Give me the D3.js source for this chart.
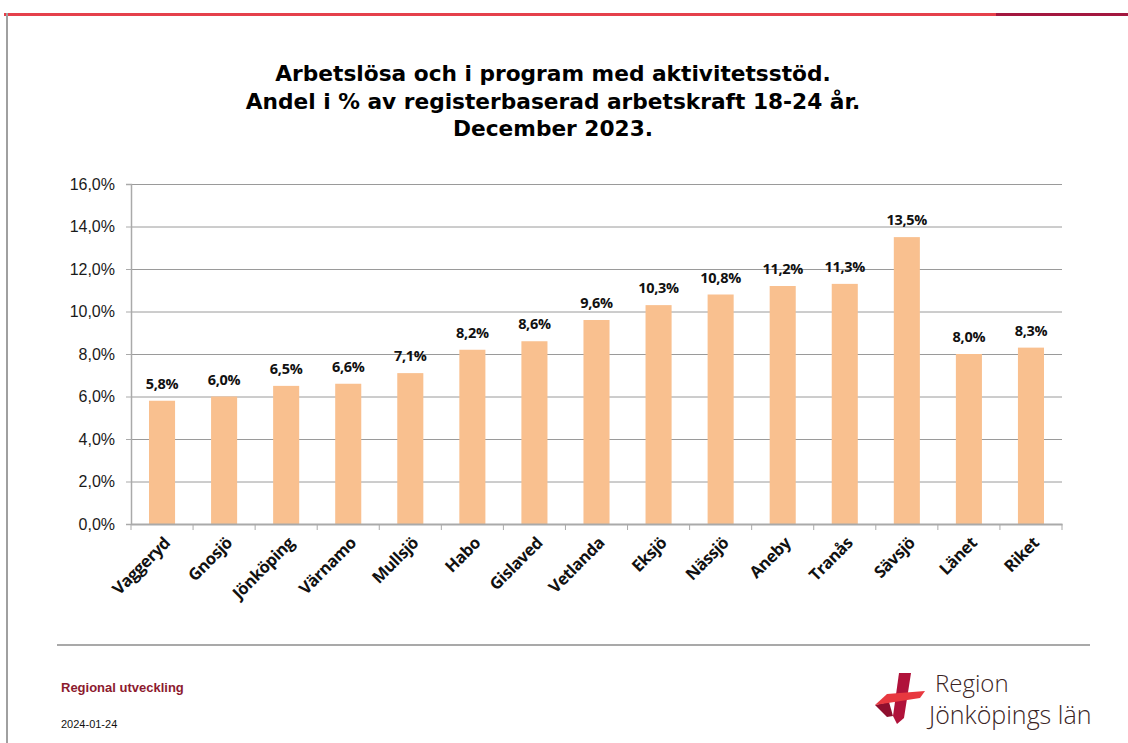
<!DOCTYPE html>
<html>
<head>
<meta charset="utf-8">
<script src="https://cdn.jsdelivr.net/npm/d3@7"></script>
<style>
  body { margin: 0; background: #fff; }
  svg { display: block; }
</style>
</head>
<body>
<div id="chart"></div>
<script>
var width = 1128, height = 743;

var kommuner = ["Vaggeryd", "Gnosjö", "Jönköping", "Värnamo", "Mullsjö", "Habo", "Gislaved",
    "Vetlanda", "Eksjö", "Nässjö", "Aneby", "Tranås", "Sävsjö", "Länet", "Riket"];
var andel = [5.8, 6.0, 6.5, 6.6, 7.1, 8.2, 8.6, 9.6, 10.3, 10.8, 11.2, 11.3, 13.5, 8.0, 8.3];
var yTicks = [0, 2, 4, 6, 8, 10, 12, 14, 16];
var titleLines = ["Arbetslösa och i program med aktivitetsstöd.",
    "Andel i % av registerbaserad arbetskraft 18-24 år.",
    "December 2023."];

var sv = d3.formatLocale({decimal: ",", thousands: " ", grouping: [3], currency: ["", " kr"]});
var fmt = sv.format(".1f");

var svg = d3.select("#chart").append("svg")
    .attr("width", width).attr("height", height);

// slide frame
svg.append("rect").attr("x", 4).attr("y", 13).attr("width", width - 4).attr("height", 3).attr("fill", "#e5404b");
svg.append("rect").attr("x", 996).attr("y", 13).attr("width", width - 996).attr("height", 3).attr("fill", "#a3173f");
svg.append("rect").attr("x", 6).attr("y", 13).attr("width", 2).attr("height", height - 13).attr("fill", "#a0a0a0");

// title
svg.append("text")
    .attr("x", 553).attr("y", 81)
    .attr("text-anchor", "middle")
    .style("font-family", "'DejaVu Sans', Verdana, sans-serif")
    .style("font-weight", "bold").style("font-size", "21.7px").attr("fill", "#000")
    .selectAll("tspan").data(titleLines).enter().append("tspan")
    .attr("x", 553).attr("dy", function(d, i){ return i ? 27.5 : 0; })
    .text(function(d){ return d; });

var plotL = 131, plotR = 1062, plotT = 184, plotB = 524;

var x = d3.scaleBand().domain(kommuner).range([plotL, plotR]).paddingInner(0.58).paddingOuter(0.29);
var xb = d3.scaleBand().domain(kommuner).range([plotL, plotR]);
var y = d3.scaleLinear().domain([0, 16]).range([plotB, plotT]);

// gridlines
svg.append("g").selectAll("line").data(yTicks.slice(1)).enter().append("line")
    .attr("x1", plotL).attr("x2", plotR)
    .attr("y1", function(d){ return y(d) + 0.5; }).attr("y2", function(d){ return y(d) + 0.5; })
    .attr("stroke", "#9a9a9a").attr("stroke-width", 1);

// y axis
var yAxis = svg.append("g").attr("transform", "translate(" + plotL + ",0)")
    .call(d3.axisLeft(y).tickValues(yTicks).tickSize(5).tickPadding(11)
        .tickFormat(function(d){ return fmt(d) + "%"; }));
yAxis.select(".domain").attr("stroke", "#aaa").attr("stroke-width", 1.5);
yAxis.selectAll(".tick line").attr("stroke", "#aaa");
yAxis.selectAll("text")
    .style("font-family", "'Liberation Sans', Arial, sans-serif")
    .style("font-size", "16px").attr("fill", "#1a1a1a");

// bars
svg.append("g").selectAll("rect").data(andel).enter().append("rect")
    .attr("x", function(d, i){ return x(kommuner[i]); })
    .attr("width", x.bandwidth())
    .attr("y", function(d){ return y(d); })
    .attr("height", function(d){ return plotB - y(d); })
    .attr("fill", "#f9c08f");

// value labels
svg.append("g").selectAll("text").data(andel).enter().append("text")
    .attr("x", function(d, i){ return x(kommuner[i]) + x.bandwidth() / 2; })
    .attr("y", function(d){ return y(d) - 12; })
    .attr("text-anchor", "middle")
    .style("font-family", "'Open Sans', sans-serif")
    .style("font-weight", "bold").style("font-size", "14.5px").attr("fill", "#111")
    .style("letter-spacing", "-0.3px")
    .text(function(d){ return fmt(d) + "%"; });

// x axis
var xAxis = svg.append("g").attr("transform", "translate(0," + plotB + ")")
    .call(d3.axisBottom(xb).tickSize(0).tickFormat(""));
xAxis.select(".domain").attr("stroke", "#aaa").attr("stroke-width", 2);
svg.append("g").selectAll("line").data(kommuner.concat([null])).enter().append("line")
    .attr("x1", function(d, i){ return plotL + i * xb.step(); })
    .attr("x2", function(d, i){ return plotL + i * xb.step(); })
    .attr("y1", plotB).attr("y2", plotB + 6)
    .attr("stroke", "#aaa").attr("stroke-width", 1);

svg.append("g").selectAll("text").data(kommuner).enter().append("text")
    .attr("transform", function(d){
        return "translate(" + (xb(d) + xb.bandwidth() / 2 + 5) + "," + (plotB + 16) + ") rotate(-45)";
    })
    .attr("text-anchor", "end")
    .attr("dy", "0.35em")
    .style("font-family", "'Open Sans', sans-serif")
    .style("font-weight", "bold").style("font-size", "16.5px").attr("fill", "#111")
    .style("letter-spacing", "-0.4px")
    .text(function(d){ return d; });

// footer
svg.append("line").attr("x1", 57).attr("x2", 1090).attr("y1", 645).attr("y2", 645)
    .attr("stroke", "#555").attr("stroke-width", 1.2);
svg.append("text").attr("x", 61).attr("y", 692)
    .style("font-family", "'Liberation Sans', Arial, sans-serif")
    .style("font-weight", "bold").style("font-size", "13px").attr("fill", "#8c1a2e")
    .text("Regional utveckling");
svg.append("text").attr("x", 61).attr("y", 728)
    .style("font-family", "'Liberation Sans', Arial, sans-serif")
    .style("font-size", "11px").attr("fill", "#111")
    .text("2024-01-24");

// logo
var logo = svg.append("g");
logo.append("path").attr("d", "M899,673 L911,673 L904,718 L897,724 L893,716 Z").attr("fill", "#b0123a");
logo.append("path").attr("d", "M875,705 L887,717 L893,716 L889,702 Z").attr("fill", "#8e0f2e");
logo.append("path").attr("d", "M887,694 L925,691 L920,698 L875,705 Z").attr("fill", "#e8383f");
logo.append("text").attr("x", 935).attr("y", 692)
    .style("font-family", "'Open Sans', sans-serif").style("font-weight", "300")
    .style("font-size", "24px").attr("fill", "#3a2424").text("Region");
logo.append("text").attr("x", 929).attr("y", 724)
    .style("font-family", "'Open Sans', sans-serif").style("font-weight", "300")
    .style("font-size", "25px").attr("fill", "#3a2424").text("Jönköpings län");
</script>
</body>
</html>
